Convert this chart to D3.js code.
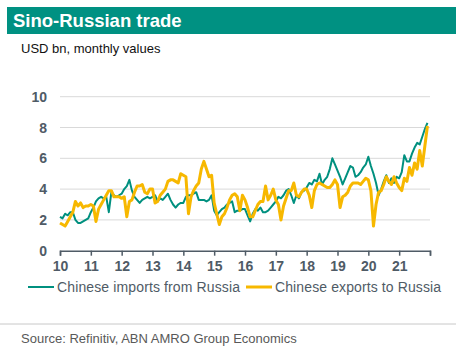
<!DOCTYPE html>
<html>
<head>
<meta charset="utf-8">
<script src="https://cdn.jsdelivr.net/npm/d3@7"></script>
<style>
  body { margin: 0; background: #fff; }
  svg { font-family: "Liberation Sans", Arial, sans-serif; display: block; }
</style>
</head>
<body>
<svg id="chart"></svg>
<script>
// monthly values, Jan 2010 .. Dec 2021 (USD bn)
const imports = [
  2.2, 2.1, 2.4, 2.3, 2.5, 2.5, 2.0, 1.8, 1.8, 1.9, 2.0, 2.1,
  2.5, 2.8, 3.2, 3.4, 3.5, 3.4, 3.5, 2.5, 3.8, 3.6, 3.5, 3.6,
  3.7, 4.0, 4.2, 4.6, 3.9, 3.5, 3.3, 3.1, 3.3, 3.4, 3.5, 3.4,
  3.5, 3.6, 3.2, 3.4, 3.3, 3.5, 3.7, 3.3, 3.0, 2.8, 3.0, 3.1,
  3.1, 3.5, 3.6, 3.6, 3.7, 3.8, 3.3, 3.3, 3.3, 3.2, 3.3, 3.6,
  2.6, 2.3, 2.5, 2.7, 2.8, 3.0, 3.1, 3.2, 2.5, 2.6, 2.6, 2.7,
  2.7, 2.3, 1.9, 2.4, 2.7, 2.6, 2.8, 2.5, 2.5, 2.6, 2.8, 3.0,
  3.2, 3.5, 3.4, 3.6, 3.9, 4.0, 3.6, 3.1, 3.6, 3.4, 3.8, 3.9,
  4.1, 4.4, 4.3, 4.6, 4.5, 5.0, 4.3, 4.6, 4.8, 5.3, 6.0, 5.6,
  5.2, 4.8, 4.3, 4.7, 5.1, 5.5, 5.4, 4.8, 4.9, 5.1, 5.4, 5.6,
  6.1, 5.5, 5.0, 4.4, 3.6, 4.0, 4.5, 4.9, 4.4, 4.7, 4.4, 4.8,
  4.7, 5.1, 6.2, 5.8, 5.8, 6.3, 6.7, 7.0, 6.9, 7.4, 7.9, 8.3
];
const exports = [
  1.8, 1.7, 1.6, 1.9, 2.2, 2.5, 3.2, 2.9, 3.1, 2.8, 2.9, 2.9,
  3.0, 2.9, 1.9, 2.7, 3.0, 3.3, 3.6, 3.9, 3.9, 3.5, 3.5, 3.5,
  3.4, 3.5, 2.2, 3.2, 3.3, 3.8, 4.2, 4.2, 4.3, 3.8, 3.7, 4.0,
  4.0, 3.1, 3.2, 3.6, 3.8, 4.0, 4.5, 4.6, 4.6, 4.5, 4.4, 5.0,
  4.9, 4.8, 2.4, 3.5, 3.9, 4.2, 4.4, 5.3, 5.8, 5.3, 4.8, 4.9,
  3.1, 2.4, 1.7, 2.2, 2.4, 2.8, 3.3, 3.6, 3.7, 3.5, 2.6, 3.6,
  3.3, 2.8, 2.2, 2.2, 2.6, 3.0, 3.2, 3.2, 4.2, 3.3, 3.6, 4.0,
  3.3, 3.0, 2.0, 2.9, 3.4, 3.9, 3.9, 4.4, 3.6, 3.5, 3.8, 4.0,
  4.0, 3.6, 2.8, 3.9, 4.3, 4.4, 4.3, 4.2, 4.1, 4.1, 4.3, 4.6,
  4.3, 2.8, 3.5, 3.6, 3.8, 4.2, 4.4, 4.4, 4.4, 4.3, 4.5, 4.7,
  4.6, 3.9, 1.6, 3.0, 3.8, 3.9, 4.3, 4.8, 4.5, 4.3, 4.8, 4.4,
  4.1, 3.9, 4.7, 4.5, 5.4, 4.9, 5.7, 5.3, 6.5, 5.5, 6.8, 8.1
];
const yearLabels = ['10', '11', '12', '13', '14', '15', '16', '17', '18', '19', '20', '21'];
const yTicks = [0, 2, 4, 6, 8, 10];
const seriesNames = ['Chinese imports from Russia', 'Chinese exports to Russia'];

const W = 465, H = 350;
const teal = '#00907f', gold = '#f7b800', axisGrey = '#4f5b66';

const svg = d3.select('#chart').attr('width', W).attr('height', H);

// Header bar
svg.append('rect').attr('x', 7).attr('y', 7).attr('width', 449).attr('height', 27).attr('fill', '#009182');
svg.append('text').attr('x', 13).attr('y', 27)
  .attr('font-size', '18.5px').attr('font-weight', 'bold').attr('fill', '#fff')
  .text('Sino-Russian trade');
svg.append('text').attr('x', 21).attr('y', 53)
  .attr('font-size', '13px').attr('fill', '#111')
  .text('USD bn, monthly values');

const x = d3.scaleLinear().domain([0, 144]).range([60, 430]);
const y = d3.scaleLinear().domain([0, 10]).range([250.7, 96.7]);

// Grid
svg.append('g')
  .selectAll('line').data(yTicks.filter(d => d > 0)).enter().append('line')
  .attr('x1', 60).attr('x2', 430)
  .attr('y1', d => y(d)).attr('y2', d => y(d))
  .attr('stroke', '#d9d9d9').attr('stroke-width', 1);

// Y labels
svg.append('g')
  .selectAll('text').data(yTicks).enter().append('text')
  .attr('x', 47).attr('y', d => y(d) + 5)
  .attr('text-anchor', 'end')
  .attr('font-size', '14px').attr('font-weight', 'bold').attr('fill', axisGrey)
  .text(d => d);

// X axis
const xAxis = svg.append('g').attr('transform', `translate(0,${y(0)})`)
  .call(d3.axisBottom(x).tickValues(d3.range(0, 145, 12)).tickSize(5).tickFormat((d, i) => yearLabels[i] || ''));
xAxis.select('.domain').attr('stroke', axisGrey).attr('stroke-width', 1.5);
xAxis.selectAll('.tick line').attr('stroke', axisGrey).attr('stroke-width', 1.5);
xAxis.selectAll('.tick text')
  .attr('font-family', '"Liberation Sans", Arial, sans-serif')
  .attr('font-size', '14px').attr('font-weight', 'bold').attr('fill', axisGrey)
  .attr('dy', '0.9em');

// Lines
const line = d3.line().x((d, i) => x(i)).y(d => y(d));
svg.append('path').datum(imports)
  .attr('fill', 'none').attr('stroke', teal).attr('stroke-width', 2)
  .attr('stroke-linejoin', 'round').attr('d', line);
svg.append('path').datum(exports)
  .attr('fill', 'none').attr('stroke', gold).attr('stroke-width', 3)
  .attr('stroke-linejoin', 'round').attr('d', line);

// Legend
const legend = [
  { name: seriesNames[0], color: teal, x0: 28, w: 2, len: 183 },
  { name: seriesNames[1], color: gold, x0: 246, w: 3, len: 166 }
];
legend.forEach(l => {
  svg.append('line').attr('x1', l.x0).attr('x2', l.x0 + 26).attr('y1', 287).attr('y2', 287)
    .attr('stroke', l.color).attr('stroke-width', l.w);
  svg.append('text').attr('x', l.x0 + 29).attr('y', 292)
    .attr('font-size', '14px').attr('fill', axisGrey)
    .attr('textLength', l.len).attr('lengthAdjust', 'spacing')
    .text(l.name);
});

// Footer
svg.append('line').attr('x1', 0).attr('x2', 456).attr('y1', 324).attr('y2', 324)
  .attr('stroke', '#c8c8c8').attr('stroke-width', 1);
svg.append('text').attr('x', 21).attr('y', 343)
  .attr('font-size', '13px').attr('fill', '#595959')
  .text('Source: Refinitiv, ABN AMRO Group Economics');
</script>
</body>
</html>
